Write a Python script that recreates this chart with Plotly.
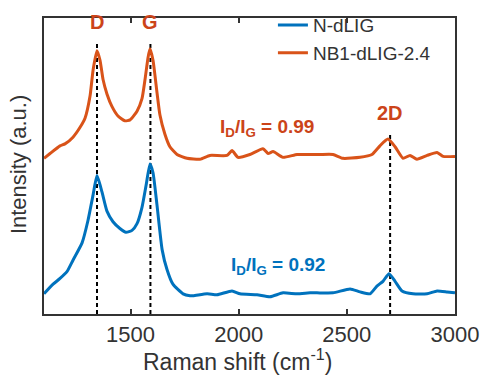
import plotly.graph_objects as go

# Raman shift (cm^-1) and intensity (a.u.)
nb1_shift = [1100, 1128, 1174, 1197, 1234, 1266, 1290, 1313, 1327, 1345, 1359, 1373, 1391, 1414,
             1442, 1474, 1498, 1530, 1553, 1567, 1581, 1590, 1604, 1622, 1636, 1659, 1682, 1715,
             1761, 1821, 1867, 1946, 1969, 1997, 2052, 2112, 2136, 2159, 2205, 2270, 2330, 2376,
             2436, 2482, 2561, 2616, 2653, 2690, 2723, 2760, 2792, 2824, 2871, 2917, 2945, 3000]
nb1_int = [162, 167, 175, 177, 184, 194, 204, 227, 254, 274, 264, 244, 229, 216,
           206, 201, 202, 211, 224, 244, 267, 276, 264, 231, 207, 187, 174, 166,
           162, 161, 165, 165, 170, 163, 166, 172, 167, 169, 163, 166, 166, 166,
           166, 162, 163, 166, 175, 182, 174, 162, 165, 161, 165, 168, 164, 164]

n_shift = [1100, 1142, 1174, 1206, 1234, 1276, 1303, 1327, 1345, 1368, 1391, 1419, 1451, 1479,
           1507, 1530, 1553, 1572, 1590, 1604, 1622, 1646, 1669, 1696, 1743, 1775, 1790, 1854,
           1900, 1969, 2006, 2085, 2145, 2205, 2270, 2330, 2362, 2436, 2515, 2561, 2607, 2639,
           2667, 2695, 2723, 2755, 2806, 2871, 2917, 2963, 3000]
n_int = [21, 31, 37, 44, 56, 74, 97, 124, 144, 127, 107, 96, 89, 85,
         87, 94, 111, 134, 156, 147, 114, 67, 46, 31, 21, 19, 19, 21,
         20, 24, 21, 20, 18, 22, 21, 22, 22, 22, 26, 23, 21, 29,
         34, 42, 34, 24, 21, 21, 24, 23, 22]

series_names = ["N-dLIG", "NB1-dLIG-2.4"]
peak_labels = ["D", "G", "2D"]
peak_pos = [1345, 1592, 2700]
peak_line_top = [282, 282, 189]
peak_label_y = [304, 304, 209]
ratio_labels = ["0.92", "0.99"]

BLUE = "#0072BD"
ORANGE = "#D95319"
TXT_RED = "#CC4419"
AX = "#333333"
FONT = "Arial, Liberation Sans, sans-serif"

fig = go.Figure()

# dashed peak markers
for pos, top in zip(peak_pos, peak_line_top):
    fig.add_trace(go.Scatter(x=[pos, pos], y=[0, top], mode="lines",
                             line=dict(color="black", width=2, dash="4px,3px"),
                             showlegend=False, hoverinfo="skip"))

fig.add_trace(go.Scatter(x=n_shift, y=n_int, mode="lines", name=series_names[0],
                         line=dict(color=BLUE, width=3, shape="spline", smoothing=0.5)))
fig.add_trace(go.Scatter(x=nb1_shift, y=nb1_int, mode="lines", name=series_names[1],
                         line=dict(color=ORANGE, width=3, shape="spline", smoothing=0.5)))

# peak labels
for lab, pos, ly in zip(peak_labels, peak_pos, peak_label_y):
    fig.add_annotation(x=pos, y=ly, text="<b>%s</b>" % lab, showarrow=False,
                       yanchor="middle",
                       font=dict(family=FONT, size=20, color=TXT_RED))

fig.add_annotation(x=2130, y=194, text="<b>I<sub>D</sub>/I<sub>G</sub> = %s</b>" % ratio_labels[1],
                   showarrow=False, font=dict(family=FONT, size=19, color=TXT_RED))
fig.add_annotation(x=2182, y=50, text="<b>I<sub>D</sub>/I<sub>G</sub> = %s</b>" % ratio_labels[0],
                   showarrow=False, font=dict(family=FONT, size=19, color=BLUE))

# axis titles
fig.add_annotation(xref="paper", yref="paper", x=0.471, y=0, yshift=-46,
                   text="Raman shift (cm<sup>-1</sup>)", showarrow=False,
                   xanchor="center", yanchor="middle",
                   font=dict(family=FONT, size=23, color=AX))
fig.add_annotation(xref="paper", yref="paper", x=0, y=0.503, xshift=-26,
                   text="Intensity (a.u.)", showarrow=False, textangle=-90,
                   xanchor="center", yanchor="middle",
                   font=dict(family=FONT, size=22, color=AX))

fig.update_layout(
    width=494, height=377,
    margin=dict(l=44, r=39, t=6, b=63),
    paper_bgcolor="white", plot_bgcolor="white",
    font=dict(family=FONT, size=20, color=AX),
    showlegend=True,
    legend=dict(x=0.557, y=1.04, xanchor="left", yanchor="top",
                bgcolor="rgba(0,0,0,0)", font=dict(size=19, color=AX),
                tracegroupgap=0, itemwidth=30),
    xaxis=dict(range=[1100, 3000], tickvals=[1500, 2000, 2500, 3000],
               ticks="inside", ticklen=5, tickwidth=1.5, tickcolor=AX,
               showline=True, linecolor=AX, linewidth=2, mirror="ticks",
               showgrid=False, zeroline=False, automargin=False,
               tickfont=dict(size=22, color=AX)),
    yaxis=dict(range=[0, 308], showticklabels=False, ticks="",
               showline=True, linecolor=AX, linewidth=2, mirror=True,
               showgrid=False, zeroline=False, automargin=False),
)

fig.write_html("out.html", config={"displayModeBar": False},
               post_script="document.body.style.margin='0';")
